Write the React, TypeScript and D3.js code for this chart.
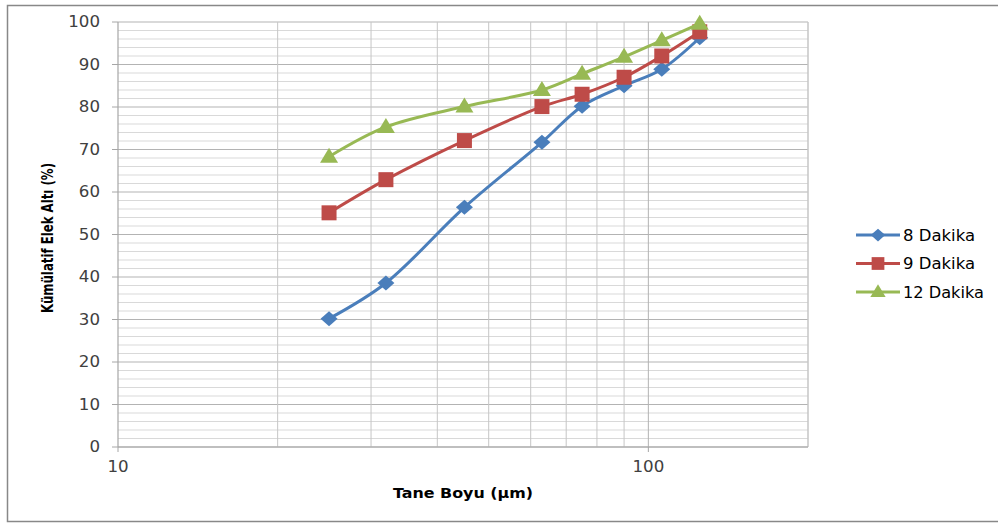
import React from 'react';
import * as d3 from 'd3';

// sieve sizes (µm) and cumulative passing (%)
const sizes = [25, 32, 45, 63, 75, 90, 106, 125];
const dk8 = [30.2, 38.6, 56.4, 71.7, 80.2, 85.0, 88.9, 96.3];
const dk9 = [55.1, 62.9, 72.1, 80.1, 83.0, 87.0, 92.0, 97.7];
const dk12 = [68.3, 75.3, 80.1, 84.0, 87.8, 91.8, 95.7, 99.6];
const seriesNames = ['8 Dakika', '9 Dakika', '12 Dakika'];
const yTicks = [0, 10, 20, 30, 40, 50, 60, 70, 80, 90, 100];
const xTicks = [10, 100];

const colors = ['#4A7EBB', '#BE4B48', '#98B954'];

const W = 998, H = 525;
const m = { left: 118, right: 808, top: 22, bottom: 447 };
const font = '"DejaVu Sans", Verdana, sans-serif';

// marker outlines, centred on 0,0
function marker(i: number, k = 1) {
  if (i === 0) {
    const w = 8.5 * k, h = 7.5 * k;
    return `M${-w},0L0,${-h}L${w},0L0,${h}Z`;
  }
  if (i === 1) {
    const s = 7.5 * k;
    return `M${-s},${-s}H${s}V${s}H${-s}Z`;
  }
  const w = 9 * k, h = 15 * k;
  return `M0,${-h * 0.6}L${w},${h * 0.4}L${-w},${h * 0.4}Z`;
}

export default function App() {
  const x = d3.scaleLog().domain([10, 200]).range([m.left, m.right]);
  const y = d3.scaleLinear().domain([0, 100]).range([m.bottom, m.top]);

  const minorY = d3.range(0, 101, 2).filter(v => v % 10 !== 0);
  const minorX = [20, 30, 40, 50, 60, 70, 80, 90];

  const series = [dk8, dk9, dk12].map((vals, i) => ({
    name: seriesNames[i],
    pts: sizes.map((s, j) => [s, vals[j]] as [number, number]),
  }));

  const line = d3.line<[number, number]>()
    .x(d => x(d[0]))
    .y(d => y(d[1]))
    .curve(d3.curveCatmullRom.alpha(0.5));

  return (
    <div style={{ position: 'absolute', left: 0, top: 0 }}>
      <svg width={W} height={H} style={{ display: 'block', fontFamily: font }}>
        <rect x={0} y={0} width={W} height={H} fill="#fff" />
        {/* chart frame */}
        <rect x={7.5} y={5.5} width={W} height={H - 3.5 - 5.5} fill="none" stroke="#888" strokeWidth={1.5} />

        {/* minor horizontal grid */}
        {minorY.map(v => (
          <line key={'my' + v} x1={m.left} x2={m.right} y1={y(v)} y2={y(v)} stroke="#d9d9d9" strokeWidth={1} />
        ))}
        {/* major horizontal grid */}
        {yTicks.map(v => (
          <line key={'y' + v} x1={m.left} x2={m.right} y1={y(v)} y2={y(v)} stroke="#b3b3b3" strokeWidth={1} />
        ))}
        {/* vertical grid */}
        {minorX.map(v => (
          <line key={'mx' + v} x1={x(v)} x2={x(v)} y1={m.top} y2={m.bottom} stroke="#c6c6c6" strokeWidth={1} />
        ))}
        <line x1={x(100)} x2={x(100)} y1={m.top} y2={m.bottom} stroke="#b3b3b3" strokeWidth={1} />
        <line x1={m.right} x2={m.right} y1={m.top} y2={m.bottom} stroke="#c6c6c6" strokeWidth={1.5} />

        {/* axes */}
        <line x1={m.left} x2={m.left} y1={m.top} y2={m.bottom} stroke="#a6a6a6" strokeWidth={1.2} />
        <line x1={m.left} x2={m.right} y1={m.bottom} y2={m.bottom} stroke="#a6a6a6" strokeWidth={1.2} />
        {yTicks.map(v => (
          <g key={'yt' + v}>
            <line x1={m.left - 6} x2={m.left} y1={y(v)} y2={y(v)} stroke="#a6a6a6" />
            <text x={100} y={y(v)} dy="0.36em" textAnchor="end" fontSize={15} fill="#404040"
              textLength={String(v).length * 10.6} lengthAdjust="spacingAndGlyphs">{v}</text>
          </g>
        ))}
        {xTicks.map(v => (
          <g key={'xt' + v}>
            <line x1={x(v)} x2={x(v)} y1={m.bottom} y2={m.bottom + 5} stroke="#a6a6a6" />
            <text x={x(v)} y={m.bottom + 25} textAnchor="middle" fontSize={15} fill="#404040"
              textLength={String(v).length * 10.6} lengthAdjust="spacingAndGlyphs">{v}</text>
          </g>
        ))}

        {/* axis titles */}
        <text x={463} y={498} textAnchor="middle" fontSize={14.5} fontWeight="bold" fill="#000"
          textLength={140} lengthAdjust="spacingAndGlyphs">Tane Boyu (µm)</text>
        <text transform="translate(53,238) rotate(-90)" textAnchor="middle" fontSize={16} fontWeight="bold"
          fill="#000" fontFamily='"DejaVu Sans Condensed", "Liberation Sans Narrow", sans-serif'
          textLength={150} lengthAdjust="spacingAndGlyphs">
          Kümülatif Elek Altı (%)
        </text>

        {/* series */}
        {series.map((s, i) => (
          <g key={s.name}>
            <path d={line(s.pts) || ''} fill="none" stroke={colors[i]} strokeWidth={3} />
            {s.pts.map((p, j) => (
              <path key={j} transform={`translate(${x(p[0])},${y(p[1])})`} d={marker(i)} fill={colors[i]} />
            ))}
          </g>
        ))}

        {/* legend */}
        {series.map((s, i) => {
          const ly = 235 + i * 28.5;
          return (
            <g key={'lg' + s.name}>
              <line x1={856} x2={900} y1={ly} y2={ly} stroke={colors[i]} strokeWidth={3} />
              <path transform={`translate(878,${ly})`} d={marker(i, 0.85)} fill={colors[i]} />
              <text x={903} y={ly} dy="0.36em" fontSize={15.5} fill="#000"
                textLength={s.name.length * 9} lengthAdjust="spacingAndGlyphs">{s.name}</text>
            </g>
          );
        })}
      </svg>
    </div>
  );
}
